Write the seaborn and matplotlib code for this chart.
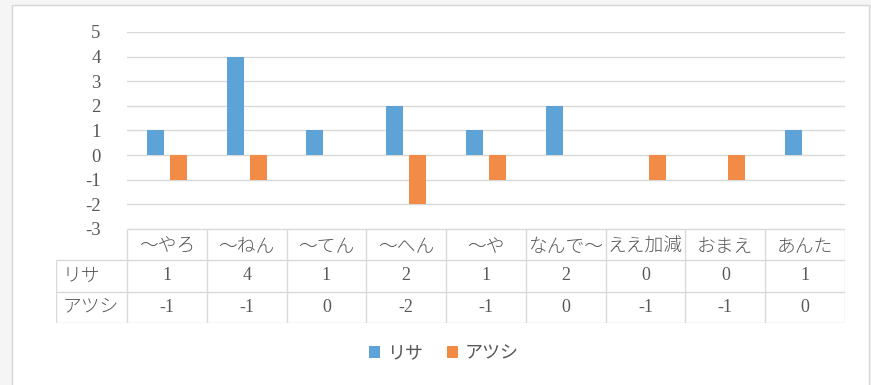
import matplotlib
matplotlib.use("Agg")
import matplotlib.pyplot as plt
from matplotlib.patches import Rectangle, Patch
from matplotlib.lines import Line2D
import seaborn as sns
import pandas as pd

# Data
categories = ["〜やろ", "〜ねん", "〜てん", "〜へん", "〜や", "なんで〜", "ええ加減", "おまえ", "あんた"]
series_names = ["リサ", "アツシ"]
lisa = [1, 4, 1, 2, 1, 2, 0, 0, 1]
atsushi = [-1, -1, 0, -2, -1, 0, -1, -1, 0]
y_ticks = [-3, -2, -1, 0, 1, 2, 3, 4, 5]

colors = ["#5EA3D8", "#F28B45"]
text_color = "#595959"
line_color = "#d9d9d9"

sns.set_theme(style="white")
plt.rcParams["font.family"] = ["Liberation Serif", "Noto Sans CJK JP"]

W, H = 871, 385
fig = plt.figure(figsize=(W / 100, H / 100), dpi=100, facecolor="#f5f5f5")


def fx(px):
    return px / W


def fy(py):
    return 1 - py / H


# chart area background with its thin frame
fig.add_artist(Rectangle((fx(12), fy(400)), fx(869 - 12), fy(5) - fy(400),
                         transform=fig.transFigure, facecolor="white",
                         edgecolor="#d6d6d6", lw=1, zorder=-1))

# plot area
left, right, top, bottom = 127, 845, 32, 228.8
ax = fig.add_axes([fx(left), fy(bottom), fx(right - left), fy(top) - fy(bottom)])
ax.set_facecolor("white")

df = pd.DataFrame({
    "category": categories * 2,
    "value": lisa + atsushi,
    "series": [series_names[0]] * len(categories) + [series_names[1]] * len(categories),
})
sns.barplot(data=df, x="category", y="value", hue="series", order=categories,
            hue_order=series_names, palette=colors, width=0.58, gap=0.27,
            saturation=1, linewidth=0, legend=False, ax=ax)

ax.set_xlim(-0.5, len(categories) - 0.5)
ax.set_ylim(min(y_ticks), max(y_ticks))
ax.set_yticks(y_ticks)
ax.set_yticklabels([str(v) for v in y_ticks])
ax.tick_params(axis="y", length=0, pad=19, labelsize=13.5, labelcolor=text_color)
ax.set_xticks([])
ax.set_xlabel("")
ax.set_ylabel("")
ax.set_axisbelow(True)
ax.grid(axis="y", color=line_color, lw=1)
for s in ax.spines.values():
    s.set_visible(False)

# data table under the plot
label_left = 56
col_w = (right - left) / len(categories)
xl = -0.5 - (left - label_left) / col_w
xr = len(categories) - 0.5
tax = fig.add_axes([fx(label_left), fy(323), fx(right - label_left), fy(229) - fy(323)])
tax.set_xlim(xl, xr)
tax.set_ylim(3, 0)
tax.axis("off")

lkw = dict(color=line_color, lw=1, solid_capstyle="butt")
tax.add_line(Line2D([-0.5, xr], [0, 0], **lkw))
for r in (1, 2, 3):
    tax.add_line(Line2D([xl, xr], [r, r], **lkw))
tax.add_line(Line2D([xl, xl], [1, 3], **lkw))
for k in range(len(categories) + 1):
    tax.add_line(Line2D([k - 0.5, k - 0.5], [0, 3], **lkw))

for i, c in enumerate(categories):
    tax.text(i, 0.58, c, ha="center", va="center", fontsize=13.5, color=text_color,
             fontweight="light")
for r, (name, vals) in enumerate(zip(series_names, [lisa, atsushi]), start=1):
    tax.text(xl + 0.08, r + 0.5, name, ha="left", va="center", fontsize=13.5,
             color=text_color, fontweight="light")
    for i, v in enumerate(vals):
        tax.text(i, r + 0.5, str(v), ha="center", va="center", fontsize=13, color=text_color)

# legend
handles = [Patch(facecolor=c, edgecolor="none", label=n) for c, n in zip(colors, series_names)]
fig.legend(handles=handles, loc="center", bbox_to_anchor=(fx(444), fy(354)),
           ncol=2, frameon=False, handlelength=0.6, handleheight=0.6,
           handletextpad=0.4, columnspacing=1.3, fontsize=13, labelcolor=text_color)

fig.savefig("out.png", dpi=100, facecolor=fig.get_facecolor())
